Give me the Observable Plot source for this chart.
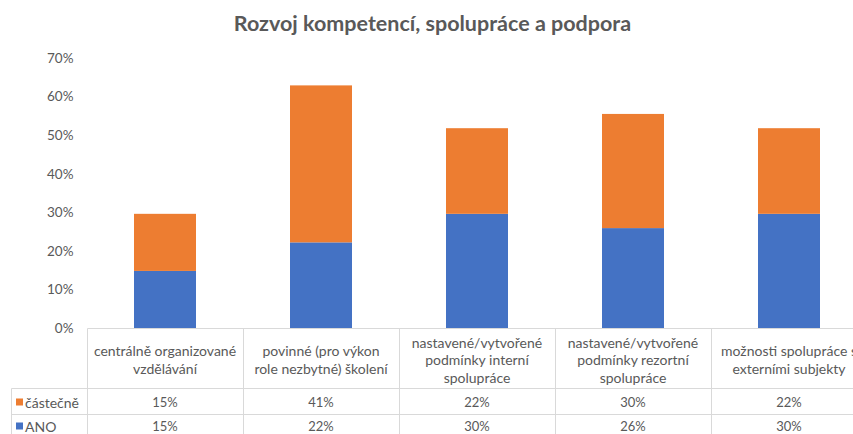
<!DOCTYPE html>
<html><head><meta charset="utf-8">
<script src="https://cdn.jsdelivr.net/npm/d3@7"></script>
<script src="https://cdn.jsdelivr.net/npm/@observablehq/plot@0.6"></script>
<style>
body{margin:0;background:#fff;font-family:Lato,sans-serif;overflow:hidden;width:853px;height:434px}
#title{height:40px;line-height:46px;text-align:center;font-size:21.5px;font-weight:700;color:#595959;padding-left:12px;box-sizing:border-box}
#chart svg{display:block}
</style></head><body>
<div id="title">Rozvoj kompetencí, spolupráce a podpora</div>
<div id="chart"></div>
<script>
const categories = [
  "centrálně organizované vzdělávání",
  "povinné (pro výkon role nezbytné) školení",
  "nastavené/vytvořené podmínky interní spolupráce",
  "nastavené/vytvořené podmínky rezortní spolupráce",
  "možnosti spolupráce s externími subjekty"
];
const categoryLines = [
  ["centrálně organizované", "vzdělávání"],
  ["povinné (pro výkon", "role nezbytné) školení"],
  ["nastavené/vytvořené", "podmínky interní", "spolupráce"],
  ["nastavené/vytvořené", "podmínky rezortní", "spolupráce"],
  ["možnosti spolupráce s", "externími subjekty"]
];
const seriesNames = ["ANO", "částečně"];
const seriesColors = ["#4472C4", "#ED7D31"];
const anoValues = [14.8, 22.2, 29.6, 25.9, 29.6];
const castecneValues = [14.8, 40.7, 22.2, 29.6, 22.2];
const yTicks = [0, 10, 20, 30, 40, 50, 60, 70];

const rows = categories.flatMap((c, i) => [
  {cat: c, series: seriesNames[0], value: anoValues[i]},
  {cat: c, series: seriesNames[1], value: castecneValues[i]}
]);

const W = 853, H = 394;
const plot = Plot.plot({
  width: W, height: H,
  marginTop: 18, marginBottom: 106, marginLeft: 87, marginRight: 0,
  style: {fontFamily: "Lato, sans-serif", fontSize: "13px", color: "#595959", background: "#fff", overflow: "visible"},
  x: {domain: categories, range: [87, 867], paddingInner: 0.6, paddingOuter: 0.3, axis: null},
  y: {domain: [0, 70], label: null},
  color: {domain: seriesNames, range: seriesColors},
  marks: [
    Plot.ruleY(yTicks.filter(d => d > 0), {y: d => d, x1: 87, x2: 867, stroke: "#D9D9D9"}),
    Plot.barY(rows, {x: "cat", y: "value", fill: "series"}),
    Plot.axisY(yTicks, {tickSize: 0, tickPadding: 14, tickFormat: d => d + "%", label: null, fill: "#595959", fontSize: "13.5px"})
  ]
});
document.getElementById("chart").append(plot);

// Data table below the plot
const xs = plot.scale("x"), ys = plot.scale("y");
const svg = d3.select(plot);
const gap = xs.step - xs.bandwidth;
const colLeft = categories.map(c => xs.apply(c) - gap / 2);
const right = colLeft[colLeft.length - 1] + xs.step;
const y0 = ys.apply(0);            // table top
const headerBottom = y0 + 60;
const row1Bottom = headerBottom + 26;
const legendLeft = 11;
const g = svg.append("g").attr("stroke", "#D9D9D9").attr("stroke-width", 1).attr("fill", "none");
const lines = [
  [colLeft[0], y0, right, y0],
  [legendLeft, headerBottom, right, headerBottom],
  [legendLeft, row1Bottom, right, row1Bottom],
  [legendLeft, headerBottom, legendLeft, H + 5],
  ...colLeft.map(x => [x, y0, x, H + 5])
];
lines.forEach(([x1, y1, x2, y2]) => g.append("line")
  .attr("x1", Math.round(x1) + 0.5).attr("x2", Math.round(x2) + 0.5)
  .attr("y1", Math.round(y1) + 0.5).attr("y2", Math.round(y2) + 0.5));

const t = svg.append("g").attr("fill", "#595959").attr("font-family", "Lato, sans-serif")
  .attr("font-size", "13px").attr("text-anchor", "middle").attr("dominant-baseline", "central");
const lh = 17.5, headerMid = y0 + 31.5;
categories.forEach((c, i) => {
  const cx = xs.apply(c) + xs.bandwidth / 2;
  const ls = categoryLines[i];
  ls.forEach((s, j) => t.append("text").attr("x", cx).attr("font-size", "14px")
    .attr("y", headerMid + (j - (ls.length - 1) / 2) * lh).text(s));
  t.append("text").attr("x", cx).attr("y", headerBottom + 14).text(Math.round(castecneValues[i]) + "%");
  t.append("text").attr("x", cx).attr("y", row1Bottom + 12).text(Math.round(anoValues[i]) + "%");
});
// legend keys in the table
const legendRows = [[seriesNames[1], seriesColors[1], headerBottom + 14], [seriesNames[0], seriesColors[0], row1Bottom + 12]];
legendRows.forEach(([name, col, cy]) => {
  svg.append("rect").attr("x", 16).attr("y", cy - 3.5).attr("width", 7).attr("height", 7).attr("fill", col);
  t.append("text").attr("x", 25).attr("y", cy).attr("text-anchor", "start").attr("font-size", "14px").text(name);
});
</script>
</body></html>
